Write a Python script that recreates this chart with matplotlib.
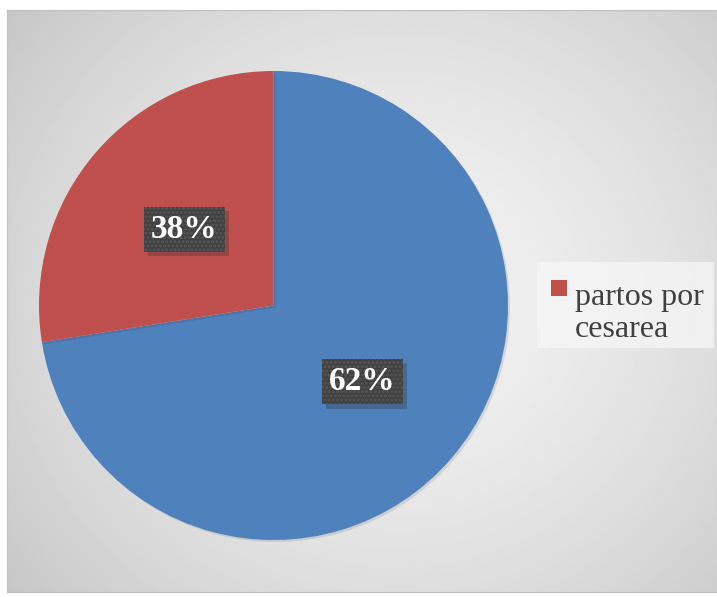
import numpy as np
import matplotlib
matplotlib.use('Agg')
import matplotlib.pyplot as plt
import matplotlib.patheffects as pe
from matplotlib.patches import Rectangle

# shares as drawn in the picture, and the label texts printed on them
categories = ['partos normales', 'partos por\ncesarea']
shares = [72.5, 27.5]
label_texts = ['62%', '38%']
colors = ['#4f81bd', '#c0504d']


class PlainShadow(pe.SimplePatchShadow):
    # shadow without the dotted hatch of the label box
    def draw_path(self, renderer, gc, tpath, affine, rgbFace):
        gc0 = renderer.new_gc()
        gc0.copy_properties(gc)
        gc0.set_hatch(None)
        super().draw_path(renderer, gc0, tpath, affine, rgbFace)
        gc0.restore()


W, H = 717, 597
fig = plt.figure(figsize=(W / 100, H / 100), dpi=100)
fig.patch.set_facecolor('white')

# grey radial gradient background of the chart area
bg = fig.add_axes([7 / W, 5 / H, 710 / W, 582 / H])
yy, xx = np.mgrid[0:1:300j, 0:1:360j]
d = np.sqrt(((xx - 0.55) / 0.75) ** 2 + ((yy - 0.5) / 0.85) ** 2)
shade = 0.95 - 0.19 * np.clip(d, 0, 1) ** 1.6
bg.imshow(shade, cmap='gray', vmin=0, vmax=1, aspect='auto', extent=[0, 1, 0, 1])
bg.set_xticks([])
bg.set_yticks([])
for s in bg.spines.values():
    s.set_color('#bfbfbf')
    s.set_linewidth(0.8)

# pie
ax = fig.add_axes([39 / W, 57 / H, 469 / W, 469 / H])
ax.set_facecolor('none')
wedges, texts = ax.pie(shares, colors=colors, startangle=90, counterclock=False,
                       labels=label_texts, labeldistance=0.5, radius=1,
                       wedgeprops=dict(linewidth=0))
ax.set_xlim(-1, 1)
ax.set_ylim(-1, 1)
for w in wedges:
    w.set_path_effects([pe.SimplePatchShadow(offset=(1.5, -1.5), alpha=0.12), pe.Normal()])

plt.rcParams['hatch.linewidth'] = 1.5
for t in texts:
    t.set_fontfamily('Liberation Serif')
    t.set_fontsize(24)
    t.set_fontweight('bold')
    t.set_color('white')
    t.set_ha('center')
    t.set_va('center')
    t.set_bbox(dict(boxstyle='square,pad=0.22', facecolor='#404040',
                    edgecolor='#575757', linewidth=0, hatch='....'))
    t.get_bbox_patch().set_path_effects([
        PlainShadow(offset=(3, -3), shadow_rgbFace='#303030', alpha=0.3),
        pe.Normal()])

# legend box (only the red slice is listed in the picture), drawn by hand so the
# square sits next to the first line
def fx(px):
    return px / W

def fy(py):
    return (H - py) / H

fig.patches.append(Rectangle((fx(537), fy(348)), 177 / W, 86 / H, transform=fig.transFigure,
                             facecolor='#f7f7f7', alpha=0.75, edgecolor='none'))
fig.patches.append(Rectangle((fx(551), fy(296)), 16 / W, 16 / H, transform=fig.transFigure,
                             facecolor=colors[1], edgecolor='none'))
for i, line in enumerate(categories[1].split('\n')):
    fig.text(fx(575), fy(305 + 32 * i), line, fontfamily='Liberation Serif', fontsize=23,
             color='#404040', ha='left', va='baseline')

fig.savefig('out.png', dpi=100)
